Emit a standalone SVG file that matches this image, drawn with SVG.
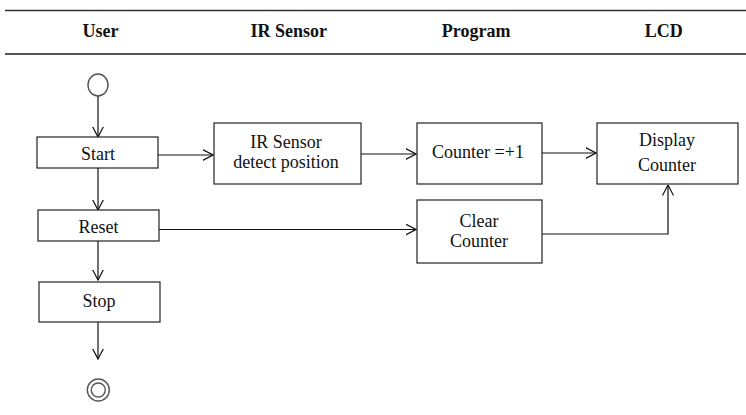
<svg xmlns="http://www.w3.org/2000/svg" width="746" height="415" viewBox="0 0 746 415">
  <style>
    .lane { font-family: "Liberation Serif", "Times New Roman", Times, "DejaVu Serif", serif; font-size: 18px; font-weight: bold; fill: #111; text-anchor: middle; }
    .lbl { font-family: "Liberation Serif", "Times New Roman", Times, "DejaVu Serif", serif; font-size: 18px; fill: #111; text-anchor: middle; }
    .box { fill: #fff; stroke: #222; stroke-width: 1.2; }
    .edge { fill: none; stroke: #111; stroke-width: 1.2; marker-end: url(#arrow); }
    .state { fill: #fff; stroke: #555; stroke-width: 1.4; }
  </style>
  <defs>
    <marker id="arrow" viewBox="0 0 11 12" refX="10.5" refY="6" markerWidth="11" markerHeight="12" markerUnits="userSpaceOnUse" orient="auto">
      <path d="M0,0.5 L10.5,6 L0,11.5" fill="none" stroke="#111" stroke-width="1.2"/>
    </marker>
  </defs>
  <rect width="746" height="415" fill="#fff"/>

  <!-- swimlane header -->
  <g id="header">
    <line x1="5" y1="10.5" x2="746" y2="10.5" stroke="#333" stroke-width="1.5"/>
    <line x1="5" y1="54" x2="746" y2="54" stroke="#555" stroke-width="2"/>
    <text class="lane" x="100.5" y="36.7">User</text>
    <text class="lane" x="288.8" y="36.7">IR Sensor</text>
    <text class="lane" x="476.2" y="36.7">Program</text>
    <text class="lane" x="663.7" y="36.7">LCD</text>
  </g>

  <!-- connectors -->
  <g id="connectors">
    <line class="edge" x1="98" y1="96" x2="98" y2="137"/>
    <line class="edge" x1="98" y1="168" x2="98" y2="210"/>
    <line class="edge" x1="98" y1="241" x2="98" y2="280"/>
    <line class="edge" x1="98" y1="322" x2="98" y2="359"/>
    <line class="edge" x1="158" y1="155" x2="213" y2="155"/>
    <line class="edge" x1="361" y1="154" x2="416" y2="154"/>
    <line class="edge" x1="542" y1="153" x2="596" y2="153"/>
    <line class="edge" x1="159" y1="229.5" x2="416" y2="229.5"/>
    <polyline class="edge" points="542,234 668,234 668,185"/>
  </g>

  <!-- nodes -->
  <g id="initial">
    <ellipse class="state" cx="98" cy="85" rx="10" ry="11"/>
  </g>
  <g id="start">
    <rect class="box" x="37" y="137" width="121" height="31"/>
    <text class="lbl" x="98" y="160">Start</text>
  </g>
  <g id="reset">
    <rect class="box" x="38" y="210" width="121" height="31"/>
    <text class="lbl" x="98.5" y="233">Reset</text>
  </g>
  <g id="stop">
    <rect class="box" x="39" y="282" width="121" height="40"/>
    <text class="lbl" x="99" y="307">Stop</text>
  </g>
  <g id="final">
    <circle class="state" cx="98.3" cy="390" r="11"/>
    <circle class="state" cx="98.3" cy="390" r="7"/>
  </g>
  <g id="ir-detect">
    <rect class="box" x="214" y="123" width="147" height="61"/>
    <text class="lbl" x="286" y="147.5">IR Sensor</text>
    <text class="lbl" x="286" y="168">detect position</text>
  </g>
  <g id="counter-inc">
    <rect class="box" x="417" y="123" width="125" height="61"/>
    <text class="lbl" x="478" y="158">Counter =+1</text>
  </g>
  <g id="clear-counter">
    <rect class="box" x="417" y="200" width="125" height="63"/>
    <text class="lbl" x="479" y="226.7">Clear</text>
    <text class="lbl" x="479" y="246.7">Counter</text>
  </g>
  <g id="display-counter">
    <rect class="box" x="597" y="123" width="141" height="61"/>
    <text class="lbl" x="667" y="146">Display</text>
    <text class="lbl" x="667" y="170.7">Counter</text>
  </g>
</svg>
